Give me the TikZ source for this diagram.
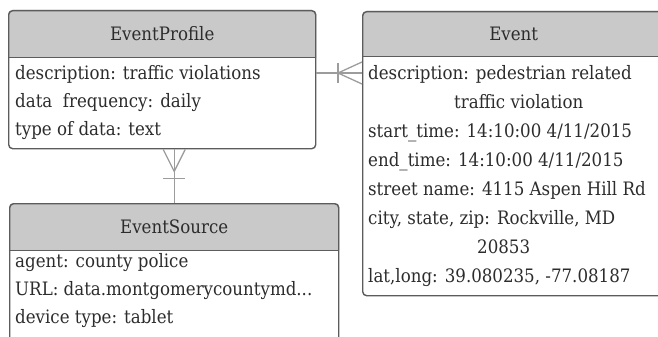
\documentclass[tikz,border=0pt]{standalone}
\usepackage{fontspec}
\setmainfont{DejaVu Serif}[FakeStretch=0.9]
\usepackage{xcolor}
\usetikzlibrary{positioning,backgrounds}

\definecolor{hdrgray}{HTML}{C9C9C9}
\definecolor{framegray}{HTML}{5C5C5C}
\definecolor{linkgray}{HTML}{9C9C9C}
\definecolor{textgray}{HTML}{2C2C2C}

\begin{document}
\begin{tikzpicture}[
      x=1pt,y=-1pt,
      entity/.style={draw=framegray,line width=1.4pt,rounded corners=4pt,anchor=north west,inner sep=0pt},
      title/.style={font=\fontsize{18.5}{22}\selectfont,text=textgray,anchor=center},
      attrs/.style={font=\fontsize{18.5}{#1}\selectfont,text=textgray,align=left,anchor=north west,inner sep=0pt},
      attrs/.default=28,
      sep/.style={draw=framegray,line width=1pt},
      link/.style={draw=linkgray,line width=1.3pt},
    ]
    \useasboundingbox (0,0) rectangle (658,337);
    \clip (0,0) rectangle (658,337);

    % Entities
    \node[entity,minimum width=307pt,minimum height=138pt] (profile) at (8,10) {};
    \node[entity,minimum width=302pt,minimum height=284pt] (event) at (362,11) {};
    \node[entity,minimum width=329pt,minimum height=170pt] (source) at (9,203) {};

    % Headers
    \begin{scope}[on background layer]
      \fill[hdrgray] ([yshift=-48pt]profile.north west) {[rounded corners=4pt] -- (profile.north west) -- (profile.north east)} -- ([yshift=-48pt]profile.north east) -- cycle;
      \fill[hdrgray] ([yshift=-46pt]event.north west) {[rounded corners=4pt] -- (event.north west) -- (event.north east)} -- ([yshift=-46pt]event.north east) -- cycle;
      \fill[hdrgray] ([yshift=-47pt]source.north west) {[rounded corners=4pt] -- (source.north west) -- (source.north east)} -- ([yshift=-47pt]source.north east) -- cycle;
    \end{scope}
    \draw[sep] ([yshift=-48pt]profile.north west) -- ([yshift=-48pt]profile.north east);
    \draw[sep] ([yshift=-46pt]event.north west) -- ([yshift=-46pt]event.north east);
    \draw[sep] ([yshift=-47pt]source.north west) -- ([yshift=-47pt]source.north east);

    \node[title] (profile-t) at ([yshift=-24pt]profile.north) {EventProfile};
    \node[title] (event-t) at ([yshift=-23pt]event.north) {Event};
    \node[title] (source-t) at ([yshift=-23.5pt]source.north) {EventSource};

    % Attributes
    \node[attrs] (profile-a) at (15,65) {description: traffic violations\\
      data\ \ frequency: daily\\
      type of data: text};
    \node[attrs=29] (event-a) at (368,65) {description: pedestrian related\\
      \hspace*{86pt}traffic violation\\
      start\_time: 14:10:00 4/11/2015\\
      end\_time: 14:10:00 4/11/2015\\
      street name: 4115 Aspen Hill Rd\\
      city, state, zip: Rockville, MD\\
      \hspace*{109pt}20853\\
      lat,long: 39.080235, -77.08187};
    \node[attrs] (source-a) at (15,253) {agent: county police\\
      URL: data.montgomerycountymd...\\
      device type: tablet};

    % Relations
    \coordinate (pe) at ([yshift=-63pt]profile.north east);
    \coordinate (pf) at ([xshift=-24pt]pe -| event.west);
    \draw[link] (pe) -- (pe -| event.west);
    \draw[link] ([yshift=11pt]pe -| event.west) -- (pf) -- ([yshift=-11pt]pe -| event.west);
    \draw[link] ([yshift=10pt]pf) -- ([yshift=-10pt]pf);

    \coordinate (ps) at (source.north |- profile.south);
    \coordinate (pv) at ([yshift=-22pt]ps);
    \draw[link] (source.north) -- (ps);
    \draw[link] ([xshift=-11pt]ps) -- (pv) -- ([xshift=11pt]ps);
    \draw[link] ([xshift=-11pt,yshift=-29pt]ps) -- ([xshift=11pt,yshift=-29pt]ps);
  \end{tikzpicture}
\end{document}
